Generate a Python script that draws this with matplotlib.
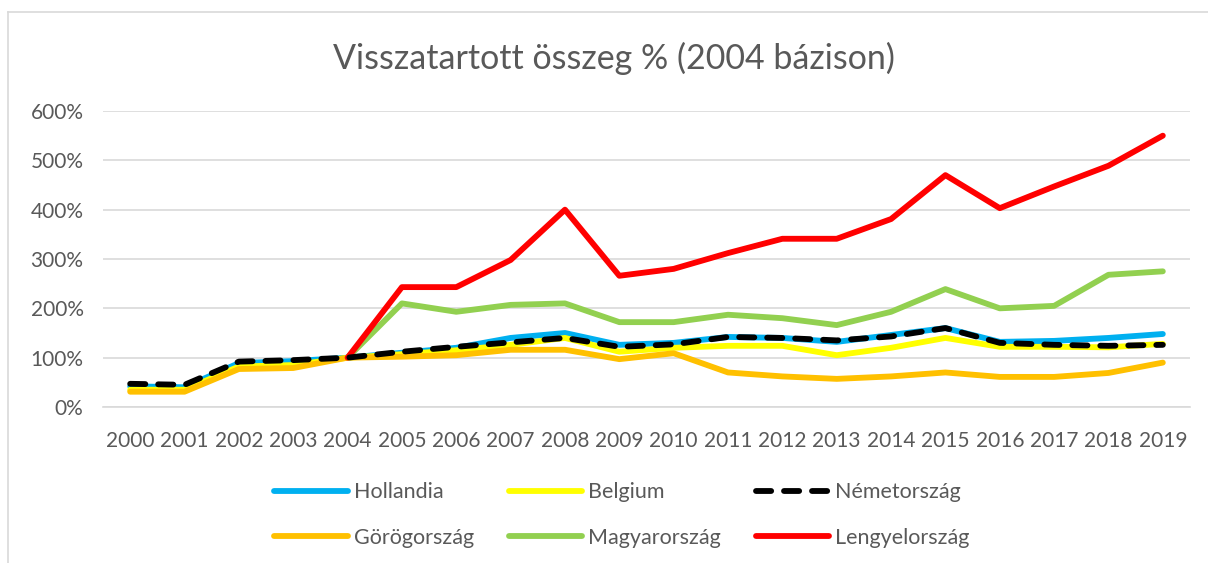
import matplotlib
matplotlib.use("Agg")
import matplotlib.pyplot as plt
from matplotlib.lines import Line2D
from matplotlib.ticker import FuncFormatter

years = [str(y) for y in range(2000, 2020)]
hollandia = [42, 40, 89, 93, 100, 110, 120, 140, 150, 126, 130, 142, 140, 132, 146, 160, 132, 134, 140, 148]
belgium = [35, 35, 82, 85, 100, 107, 115, 126, 140, 112, 120, 124, 124, 105, 120, 140, 122, 122, 121, 128]
nemet = [47, 45, 92, 95, 100, 112, 122, 131, 140, 122, 127, 142, 140, 135, 143, 160, 130, 126, 124, 126]
gorog = [31, 31, 77, 79, 100, 102, 105, 116, 116, 97, 109, 70, 62, 57, 62, 70, 61, 61, 69, 90]
magyar = [None, None, None, None, 100, 210, 193, 207, 210, 172, 172, 187, 180, 166, 193, 239, 200, 205, 268, 275]
lengyel = [None, None, None, None, 100, 243, 243, 298, 400, 266, 280, 312, 341, 341, 381, 470, 403, 447, 489, 550]
yticks = [0, 100, 200, 300, 400, 500, 600]

names = ["Hollandia", "Belgium", "Németország", "Görögország", "Magyarország", "Lengyelország"]
colors = {"Hollandia": "#00b0f0", "Belgium": "#ffff00", "Németország": "#000000",
          "Görögország": "#ffc000", "Magyarország": "#92d050", "Lengyelország": "#ff0000"}

plt.rcParams['font.family'] = ['Lato', 'DejaVu Sans']
txt = "#595959"

fig = plt.figure(figsize=(12.08, 5.63), dpi=100)
ax = fig.add_axes([103/1208, 1-407/563, (1190-103)/1208, (407-111)/563])

x = list(range(len(years)))
lw = 4.2
def plot(vals, name, z, **kw):
    xs = [i for i, v in zip(x, vals) if v is not None]
    vs = [v for v in vals if v is not None]
    ax.plot(xs, vs, color=colors[name], lw=lw, zorder=z, solid_capstyle='round', **kw)

plot(hollandia, "Hollandia", 3)
plot(belgium, "Belgium", 4)
plot(gorog, "Görögország", 5)
plot(magyar, "Magyarország", 3)
plot(lengyel, "Lengyelország", 6)
ax.plot(x, nemet, color="black", lw=lw, zorder=7, dashes=(2.6, 2.2), dash_capstyle='round')

ax.set_xlim(-0.5, len(years) - 0.5)
ax.set_ylim(0, 600)
ax.set_yticks(yticks)
ax.yaxis.set_major_formatter(FuncFormatter(lambda v, p: f"{int(v)}%"))
ax.set_xticks(x)
ax.set_xticklabels(years)
ax.grid(axis='y', color='#d9d9d9', lw=1.2)
ax.set_axisbelow(True)
for s in ['top', 'right', 'left']:
    ax.spines[s].set_visible(False)
ax.spines['bottom'].set_color('#d9d9d9')
ax.spines['bottom'].set_linewidth(1.2)
ax.tick_params(axis='both', length=0, colors=txt, labelsize=15)
ax.tick_params(axis='y', pad=14)
ax.tick_params(axis='x', pad=17)

fig.text(614/1208, 1-58/563, "Visszatartott összeg % (2004 bázison)", ha='center', va='center',
         fontsize=24.5, color=txt)

handles = {}
for n in names:
    if n == "Németország":
        handles[n] = Line2D([], [], color='black', lw=lw, dashes=(2.6, 2.2), dash_capstyle='round')
    else:
        handles[n] = Line2D([], [], color=colors[n], lw=lw, solid_capstyle='round')
order = ["Hollandia", "Görögország", "Belgium", "Magyarország", "Németország", "Lengyelország"]
leg = fig.legend([handles[n] for n in order], order, ncol=3, loc='center',
                 bbox_to_anchor=(622/1208, 1-515/563), frameon=False, fontsize=15.5,
                 handlelength=3.4, columnspacing=1.6, labelspacing=1.2, handletextpad=0.3)
for t in leg.get_texts():
    t.set_color(txt)

# chart border (left and top)
fig.add_artist(Line2D([8/1208, 8/1208], [0, 1-12/563], transform=fig.transFigure, color='#d9d9d9', lw=1.2))
fig.add_artist(Line2D([8/1208, 1], [1-12/563, 1-12/563], transform=fig.transFigure, color='#d9d9d9', lw=1.2))

fig.savefig("out.png", dpi=100)
